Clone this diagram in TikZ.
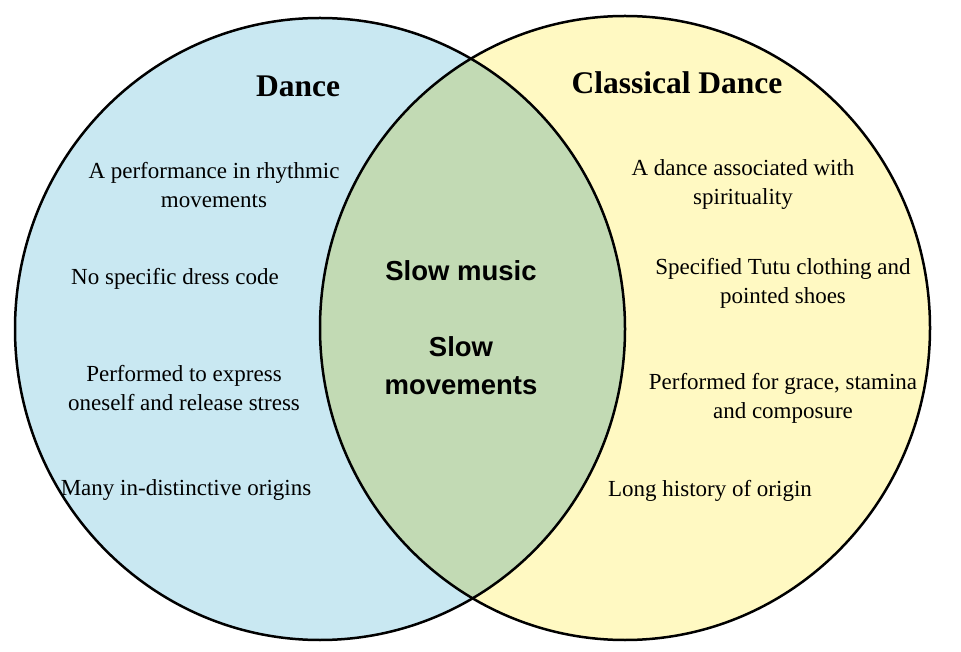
\documentclass[tikz,border=0pt]{standalone}
\usepackage{fontspec}
\setmainfont{Liberation Serif}
\newfontfamily\sansbold{Liberation Sans}
\definecolor{lblue}{HTML}{C9E8F2}
\definecolor{lyellow}{HTML}{FFF9C2}
\definecolor{lgreen}{HTML}{C2DAB4}
\begin{document}
\begin{tikzpicture}[x=1pt,y=1pt,
  item/.style={align=center,font=\fontsize{23}{29}\selectfont},
  title/.style={font=\fontsize{31.5}{36}\selectfont\bfseries},
  mid/.style={align=center,font=\sansbold\fontsize{27.5}{38}\selectfont\bfseries}]
\useasboundingbox[fill=white] (0,0) rectangle (961,651);
\fill[lblue] (320,322) ellipse [x radius=305,y radius=311];
\fill[lyellow] (625,323) ellipse [x radius=305,y radius=312];
\begin{scope}
\clip (320,322) ellipse [x radius=305,y radius=311];
\fill[lgreen] (625,323) ellipse [x radius=305,y radius=312];
\end{scope}
\draw[line width=2.5pt] (320,322) ellipse [x radius=305,y radius=311];
\draw[line width=2.5pt] (625,323) ellipse [x radius=305,y radius=312];
\node[title] (t1) at (298,565) {Dance};
\node[title] (t2) at (677,568) {Classical Dance};
\node[item] (a1) at (214,466) {A performance in rhythmic\\movements};
\node[item] (a2) at (175,372) {No specific dress code};
\node[item] (a3) at (184,263) {Performed to express\\oneself and release stress};
\node[item] (a4) at (186,161) {Many in-distinctive origins};
\node[item] (b1) at (743,466) {A dance associated with\\spirituality};
\node[item] (b2) at (783,368) {Specified Tutu clothing and\\pointed shoes};
\node[item] (b3) at (783,253) {Performed for grace, stamina\\and composure};
\node[item] (b4) at (710,160) {Long history of origin};
\node[mid] (m1) at (461,380) {Slow music};
\node[mid] (m2) at (461,285) {Slow\\movements};
\end{tikzpicture}
\end{document}
